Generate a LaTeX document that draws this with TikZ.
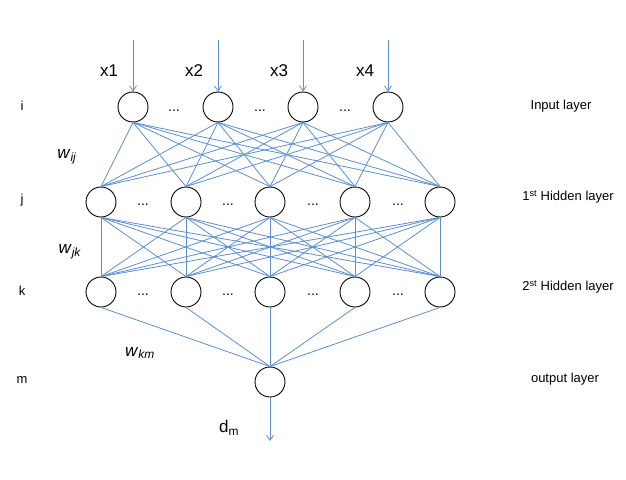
\documentclass[tikz,border=0pt]{standalone}
\usepackage{fontspec}
\setmainfont{Liberation Sans}
\usetikzlibrary{arrows.meta}
\definecolor{conn}{RGB}{92,142,208}
\tikzset{
  neuron/.style={circle,draw=black,line width=0.9pt,minimum size=30pt,inner sep=0pt},
  conn/.style={draw=conn,line width=0.8pt},
  arr/.style={conn,-{Straight Barb[length=5pt,width=7pt]}},
  lbl/.style={font=\fontsize{13pt}{15pt}\selectfont,inner sep=0pt},
  big/.style={font=\fontsize{17pt}{19pt}\selectfont,inner sep=0pt},
  dots/.style={font=\fontsize{14pt}{16pt}\selectfont,inner sep=0pt}
}
\begin{document}
\begin{tikzpicture}[x=1pt,y=-1pt]
\useasboundingbox (0,0) rectangle (626,479);
% input layer
\foreach \i/\x in {1/133,2/218,3/303,4/388} {
  \node[neuron] (in\i) at (\x,107) {};
  \coordinate (top\i) at (\x,40);
  \draw[arr] (top\i) -- (in\i);
}
\foreach \i/\x in {1/109,2/194,3/279,4/365} \node[big] (xl\i) at (\x,71) {x\i};
% hidden 1 and 2
\foreach \i/\x in {1/101,2/186,3/270,4/355,5/440} {
  \node[neuron] (ha\i) at (\x,202) {};
  \node[neuron] (hb\i) at (\x,292) {};
}
\node[neuron] (out) at (270,382) {};
\coordinate (dend) at (270,441);
\draw[arr] (out) -- (dend);
% dots
\foreach \i/\x in {1/174,2/260,3/345} \node[dots] (da\i) at (\x,111) {...};
\foreach \i/\x in {1/143,2/228,3/313,4/398} {
  \node[dots] (db\i) at (\x,205) {...};
  \node[dots] (dc\i) at (\x,295) {...};
}
% connections
\foreach \a in {1,...,4} \foreach \b in {1,...,5} \draw[conn] (in\a.south) -- (ha\b.north);
\foreach \a in {1,...,5} \foreach \b in {1,...,5} \draw[conn] (ha\a.south) -- (hb\b.north);
\foreach \a in {1,...,5} \draw[conn] (hb\a.south) -- (out.north);
% left labels
\node[lbl] (li) at (22,106) {i};
\node[lbl] (lj) at (22,200) {j};
\node[lbl] (lk) at (22,291) {k};
\node[lbl] (lm) at (22,380) {m};
\node[big] (wij) at (67,157) {\textit{w}\textsubscript{\textit{ij}}};
\node[big] (wjk) at (70,252) {\textit{w}\textsubscript{\textit{jk}}};
\node[big] (wkm) at (140,353) {\textit{w}\textsubscript{\textit{km}}};
\node[big] (dm) at (229,428) {d\textsubscript{m}};
% right labels
\node[lbl] (rin) at (561,106) {Input layer};
\node[lbl] (rh1) at (568,197) {1\textsuperscript{st} Hidden layer};
\node[lbl] (rh2) at (568,287) {2\textsuperscript{st} Hidden layer};
\node[lbl] (rout) at (565,379) {output layer};
\end{tikzpicture}
\end{document}
